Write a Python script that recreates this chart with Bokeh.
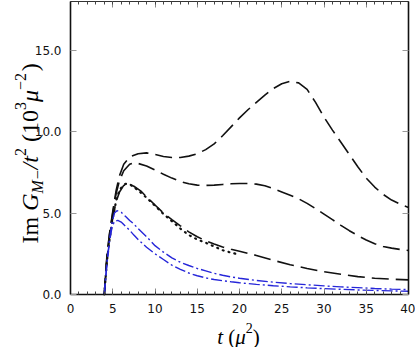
import math
from bokeh.plotting import figure
from bokeh.models import (Range1d, SingleIntervalTicker, LinearAxis, Label, NumeralTickFormatter,
                          CustomJSTickFormatter)
from bokeh.embed import file_html
from bokeh.resources import INLINE

# ---- data ----
tA = [4.0, 4.3, 4.6, 5.0, 5.4, 5.8, 6.3, 7.0, 8.0, 9.0, 10, 11, 12, 13, 14, 15, 16, 17, 18, 19, 20,
      21, 22, 23, 24, 25, 26, 27, 28, 29, 30, 31, 32, 33, 34, 35, 36, 37, 38, 39, 40]
yA = [0, 2.3, 3.7, 5.1, 6.4, 7.3, 8.0, 8.45, 8.65, 8.7, 8.6, 8.48, 8.42, 8.42, 8.5, 8.65, 8.9, 9.25,
      9.75, 10.3, 10.85, 11.35, 11.8, 12.25, 12.65, 12.95, 13.1, 13.0, 12.6, 11.8, 10.9, 10.1, 9.35,
      8.6, 7.85, 7.15, 6.6, 6.15, 5.8, 5.55, 5.35]

tB = [4.0, 4.3, 4.6, 5.0, 5.4, 5.8, 6.3, 7.0, 7.5, 8, 9, 10, 11, 12, 13, 14, 15, 16, 17, 18, 19, 20,
      21, 22, 23, 24, 25, 26, 27, 28, 29, 30, 31, 32, 33, 34, 35, 36, 37, 38, 39, 40]
yB = [0, 2.2, 3.6, 5.0, 6.2, 7.0, 7.6, 8.0, 8.1, 8.05, 7.9, 7.65, 7.39, 7.15, 6.94, 6.8, 6.72, 6.7,
      6.72, 6.76, 6.8, 6.82, 6.82, 6.78, 6.68, 6.5, 6.3, 6.1, 5.88, 5.6, 5.28, 4.94, 4.6, 4.25, 3.92,
      3.62, 3.35, 3.12, 2.95, 2.85, 2.77, 2.7]

tC = [4.0, 4.3, 4.6, 5.0, 5.4, 5.8, 6.3, 6.8, 7.5, 8.3, 9, 10, 11, 12, 13, 14, 15, 16, 17, 18, 19, 20,
      22, 24, 26, 28, 30, 32, 34, 36, 38, 40]
yC = [0, 2.1, 3.4, 4.7, 5.7, 6.3, 6.7, 6.8, 6.65, 6.37, 6.0, 5.5, 5.0, 4.6, 4.22, 3.85, 3.55, 3.3,
      3.1, 2.92, 2.78, 2.66, 2.4, 2.1, 1.83, 1.6, 1.4, 1.24, 1.1, 1.0, 0.94, 0.9]

tD = [4.0, 4.3, 4.6, 5.0, 5.5, 5.9, 6.5, 7.0, 8.0, 9, 10, 11, 12, 13, 14, 15, 16, 17, 18, 19, 20]
yD = [0, 2.0, 3.3, 4.7, 6.0, 6.5, 6.8, 6.78, 6.4, 5.95, 5.45, 4.95, 4.5, 4.05, 3.65, 3.38, 3.18,
      2.95, 2.72, 2.57, 2.45]

tE = [4.0, 4.3, 4.6, 4.9, 5.2, 5.5, 6.0, 6.5, 7, 7.5, 8, 9, 10, 11, 12, 13, 14, 15, 16, 17, 18, 19,
      20, 22, 24, 26, 28, 30, 32, 34, 36, 38, 40]
yE = [0, 1.9, 3.3, 4.4, 5.0, 5.15, 5.05, 4.8, 4.55, 4.33, 4.05, 3.55, 3.0, 2.6, 2.25, 1.98, 1.78, 1.6,
      1.45, 1.3, 1.18, 1.08, 1.0, 0.86, 0.76, 0.67, 0.6, 0.53, 0.47, 0.42, 0.37, 0.33, 0.3]

tF = [4.0, 4.3, 4.6, 4.9, 5.2, 5.6, 6.0, 6.5, 7, 7.5, 8, 9, 10, 11, 12, 13, 14, 15, 16, 17, 18, 19,
      20, 22, 24, 26, 28, 30, 32, 34, 36, 38, 40]
yF = [0, 1.8, 3.2, 4.1, 4.5, 4.55, 4.45, 4.2, 3.95, 3.65, 3.38, 2.9, 2.5, 2.15, 1.8, 1.55, 1.32, 1.15,
      1.02, 0.92, 0.85, 0.78, 0.72, 0.62, 0.54, 0.47, 0.41, 0.36, 0.32, 0.28, 0.25, 0.22, 0.2]

x_lo, x_hi, x_major = 0, 40, 5
y_lo, y_hi, y_major = 0, 18, 5

# ---- figure: the frame covers the whole canvas, axes are pinned with fixed_location ----
W, H = 415, 347
FL, FT, FR, FB = 70, 1, 408, 294   # plot-box edges in pixels
PX_X = (FR - FL) / (x_hi - x_lo)
PX_Y = (FB - FT) / (y_hi - y_lo)

p = figure(width=W, height=H, output_backend="svg", toolbar_location=None,
           x_range=Range1d(x_lo - FL / PX_X, x_lo + (W - FL) / PX_X),
           y_range=Range1d(y_lo - (H - FB) / PX_Y, y_lo + FB / PX_Y),
           min_border_left=0, min_border_right=0, min_border_top=0, min_border_bottom=0,
           x_axis_location=None, y_axis_location=None)
p.xgrid.visible = False
p.ygrid.visible = False
p.outline_line_color = None
p.background_fill_color = "white"
p.border_fill_color = "white"

tick_font = "DejaVu Sans"
blank = CustomJSTickFormatter(code="return ''")

def make_x(loc, labels=True):
    ax = LinearAxis(ticker=SingleIntervalTicker(interval=x_major, num_minor_ticks=5),
                    fixed_location=loc, bounds=(x_lo, x_hi))
    ax.major_tick_in = 6
    ax.major_tick_out = 0
    ax.minor_tick_in = 3
    ax.minor_tick_out = 0
    ax.major_tick_line_color = "#888888"
    ax.minor_tick_line_color = "#444444"
    ax.axis_line_color = "#111111"
    if labels:
        ax.axis_line_width = 1.6
        ax.major_label_text_font = tick_font
        ax.major_label_text_font_size = "12px"
        ax.major_label_text_color = "#111111"
        ax.major_label_standoff = 9
    else:
        ax.axis_line_width = 1.2
        ax.axis_line_color = "#333333"
        ax.formatter = blank
        ax.major_label_text_font_size = "1px"
        ax.major_label_standoff = 0
    return ax

def make_y(loc, labels=True):
    ax = LinearAxis(ticker=SingleIntervalTicker(interval=y_major, num_minor_ticks=0),
                    fixed_location=loc, bounds=(y_lo, y_hi))
    ax.major_tick_in = 6
    ax.major_tick_out = 0
    ax.minor_tick_in = 0
    ax.minor_tick_out = 0
    ax.major_tick_line_color = "#999999"
    ax.axis_line_color = "#111111"
    ax.axis_line_width = 1.6
    if labels:
        ax.formatter = NumeralTickFormatter(format="0.0")
        ax.major_label_text_font = tick_font
        ax.major_label_text_font_size = "12px"
        ax.major_label_text_color = "#111111"
        ax.major_label_standoff = 9
    else:
        ax.formatter = blank
        ax.major_label_text_font_size = "1px"
        ax.major_label_standoff = 0
    return ax

p.add_layout(make_x(y_lo, True), "below")
p.add_layout(make_y(x_lo, True), "left")
p.add_layout(make_x(y_hi, False), "above")
p.add_layout(make_y(x_hi, False), "right")

# ---- curves ----
black = "#111111"
blue = "#2626d9"
p.line(tA, yA, line_color=black, line_width=1.6, line_dash="17 7")
p.line(tB, yB, line_color=black, line_width=1.6, line_dash="17 7")
p.line(tC, yC, line_color=black, line_width=1.6, line_dash="17 7")
p.line(tD, yD, line_color=black, line_width=2.2, line_dash="1 5", line_cap="round")
p.line(tE, yE, line_color=blue, line_width=1.4, line_dash="11 3 2 3")
p.line(tF, yF, line_color=blue, line_width=1.4, line_dash="11 3 2 3")

# ---- axis titles built from text pieces (screen units: from left / from bottom) ----
serif = "Liberation Serif"
EM = {'I': 0.333, 'm': 0.778, 'G': 0.722, 'M': 0.833, '−': 0.675, '/': 0.278,
      't': 0.278, '2': 0.5, '(': 0.333, '1': 0.5, '0': 0.5, '3': 0.5, 'μ': 0.5, ')': 0.333}
GAP = None  # marker for an inter-word space

def width(s, size):
    return sum(EM.get(c, 0.5) for c in s) * size

def sx(X):
    return X

def sy(Y):
    return H - Y

# y title: reading upward, main baseline at page x = YB
YB = 29
y0 = 243
ypieces = [("Im", "normal", 24, 0), (GAP, None, 24, 0), ("G", "italic", 24, 0),
           ("M−", "italic", 16, 8), ("/t", "italic", 24, 0), ("2", "normal", 16, -9),
           (GAP, None, 24, 0), ("(10", "normal", 24, 0), ("3", "normal", 16, -9),
           ("μ", "italic", 24, 0), ("−2", "normal", 16, -9), (")", "normal", 24, 0)]
pos = y0
for txt, style, size, shift in ypieces:
    if txt is GAP:
        pos -= 0.25 * size
        continue
    p.add_layout(Label(x=sx(YB + shift), y=sy(pos), x_units="screen", y_units="screen",
                       text=txt, angle=math.pi / 2,
                       text_font=serif, text_font_style=style, text_font_size=f"{size}px",
                       text_color="#000000", text_align="left", text_baseline="alphabetic"))
    pos -= width(txt, size)

# x title
XB = 336
xpieces = [("t", "italic", 21, 0), (GAP, None, 21, 0), ("(", "normal", 21, 0),
           ("μ", "italic", 21, 0), ("2", "normal", 14, -9), (")", "normal", 21, 0)]
total = sum(0.25 * s if t is GAP else width(t, s) for t, _, s, _ in xpieces)
posx = 238 - total / 2
for txt, style, size, shift in xpieces:
    if txt is GAP:
        posx += 0.25 * size
        continue
    p.add_layout(Label(x=sx(posx), y=sy(XB + shift), x_units="screen", y_units="screen",
                       text=txt,
                       text_font=serif, text_font_style=style, text_font_size=f"{size}px",
                       text_color="#000000", text_align="left", text_baseline="alphabetic"))
    posx += width(txt, size)

open("out.html", "w").write(file_html(p, INLINE))
